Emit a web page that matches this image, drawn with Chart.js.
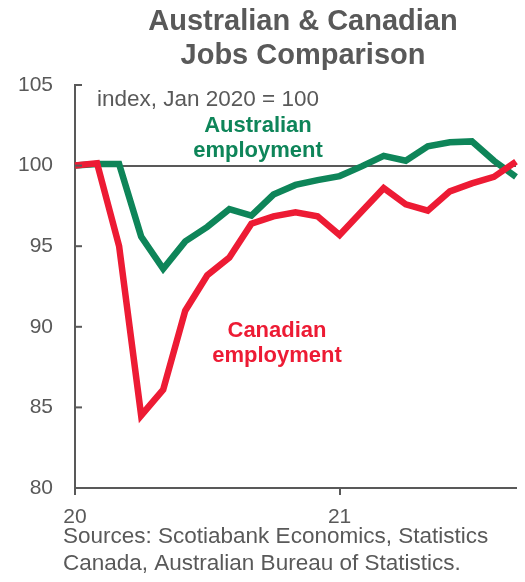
<!DOCTYPE html>
<html>
<head>
<meta charset="utf-8">
<script src="https://cdn.jsdelivr.net/npm/chart.js@4/dist/chart.umd.min.js"></script>
<style>
  html, body { margin: 0; padding: 0; background: #fff; }
  #wrap { width: 525px; height: 582px; position: relative; }
</style>
</head>
<body>
<div id="wrap"><canvas id="myChart" width="525" height="582"></canvas></div>
<script>
// monthly, Jan 2020 .. Sep 2021
const months = ['Jan 20','Feb 20','Mar 20','Apr 20','May 20','Jun 20','Jul 20','Aug 20','Sep 20','Oct 20','Nov 20','Dec 20',
                'Jan 21','Feb 21','Mar 21','Apr 21','May 21','Jun 21','Jul 21','Aug 21','Sep 21']
const australian = [100.0, 100.1, 100.1, 95.6, 93.6, 95.3, 96.2, 97.3, 96.9, 98.2, 98.8, 99.1,
                    99.35, 99.95, 100.6, 100.3, 101.2, 101.45, 101.5, 100.3, 99.3]
const canadian = [100.0, 100.15, 95.0, 84.5, 86.1, 91.0, 93.2, 94.3, 96.4, 96.85, 97.1, 96.85,
                  95.7, 97.15, 98.6, 97.6, 97.2, 98.4, 98.9, 99.3, 100.25]
const yearTickIndex = [0, 12]
const yearTickLabels = ['20', '21']
const yTicks = [80, 85, 90, 95, 100, 105]

const GREY = '#595959'
const GREEN = '#0e8559'
const RED = '#ed1b34'
const FONT = '"Liberation Sans", Arial, sans-serif'

// title, notes, source + the little inward ticks on the y axis
const extras = {
  id: 'extras',
  afterDraw(chart) {
    const c = chart.ctx
    const y = chart.scales.y
    const area = chart.chartArea
    c.save()
    c.strokeStyle = GREY
    c.lineWidth = 2
    yTicks.forEach(v => {
      const py = y.getPixelForValue(v)
      c.beginPath()
      c.moveTo(area.left, py)
      c.lineTo(area.left + 7, py)
      c.stroke()
    })

    c.textAlign = 'center'
    c.textBaseline = 'alphabetic'
    c.fillStyle = GREY
    c.font = 'bold 29px ' + FONT
    c.fillText('Australian & Canadian', 303, 30)
    c.fillText('Jobs Comparison', 303, 64)

    c.textAlign = 'left'
    c.font = '22.5px ' + FONT
    c.fillText('index, Jan 2020 = 100', 97, 106)
    c.fillText('Sources: Scotiabank Economics, Statistics', 63, 543)
    c.fillText('Canada, Australian Bureau of Statistics.', 63, 570)

    c.textAlign = 'center'
    c.font = 'bold 22px ' + FONT
    c.fillStyle = GREEN
    c.fillText('Australian', 258, 132)
    c.fillText('employment', 258, 157)
    c.fillStyle = RED
    c.fillText('Canadian', 277, 337)
    c.fillText('employment', 277, 362)
    c.restore()
  }
}

const ctx = document.getElementById('myChart').getContext('2d')
const myChart = new Chart(ctx, {
  type: 'line',
  data: {
    labels: months,
    datasets: [{
      label: 'Canadian employment',
      data: canadian,
      borderColor: RED,
      borderWidth: 6.5,
      borderJoinStyle: 'miter',
      pointRadius: 0,
      tension: 0
    }, {
      label: 'Australian employment',
      data: australian,
      borderColor: GREEN,
      borderWidth: 6.5,
      borderJoinStyle: 'miter',
      pointRadius: 0,
      tension: 0
    }]
  },
  options: {
    responsive: false,
    animation: false,
    layout: { padding: { top: 85, right: 9, left: 0, bottom: 0 } },
    plugins: {
      legend: { display: false },
      tooltip: { enabled: false },
      title: { display: false }
    },
    scales: {
      x: {
        offset: false,
        afterFit: s => { s.height = 94 },
        afterBuildTicks: s => { s.ticks = yearTickIndex.map(i => ({ value: i })) },
        border: { color: GREY, width: 2 },
        grid: { drawOnChartArea: false, drawTicks: true, tickLength: 7, color: GREY, lineWidth: 2 },
        ticks: {
          autoSkip: false,
          maxRotation: 0,
          padding: 10,
          color: GREY,
          font: { family: FONT, size: 21 },
          callback: (v, i) => yearTickLabels[i]
        }
      },
      y: {
        min: 80,
        max: 105,
        afterFit: s => { s.width = 75 },
        afterBuildTicks: s => { s.ticks = yTicks.map(v => ({ value: v })) },
        border: { color: GREY, width: 2 },
        grid: {
          drawTicks: false,
          lineWidth: 2,
          color: c => (c.tick && c.tick.value === 100) ? GREY : 'rgba(0,0,0,0)'
        },
        ticks: {
          padding: 22,
          color: GREY,
          font: { family: FONT, size: 21 }
        }
      }
    }
  },
  plugins: [extras]
})
</script>
</body>
</html>
